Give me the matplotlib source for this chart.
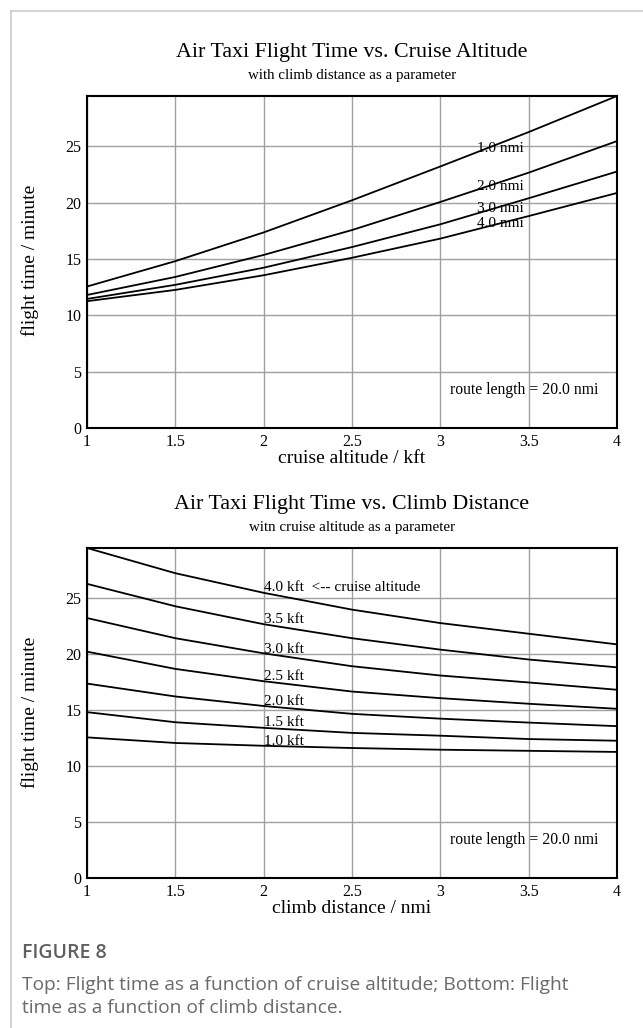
import matplotlib
matplotlib.use("Agg")
import matplotlib.pyplot as plt
from matplotlib.lines import Line2D

plt.rcParams['font.family'] = ['Liberation Serif', 'DejaVu Serif']

# grid of flight times (minutes), rows = cruise altitude, columns = climb distance
altitude = [1.0, 1.5, 2.0, 2.5, 3.0, 3.5, 4.0]      # kft
climb = [1.0, 1.5, 2.0, 2.5, 3.0, 3.5, 4.0]         # nmi

t_alt_1_0 = [12.55, 12.05, 11.80, 11.60, 11.45, 11.35, 11.25]
t_alt_1_5 = [14.80, 13.90, 13.40, 12.95, 12.70, 12.40, 12.25]
t_alt_2_0 = [17.35, 16.20, 15.35, 14.65, 14.22, 13.87, 13.55]
t_alt_2_5 = [20.20, 18.66, 17.56, 16.64, 16.05, 15.55, 15.10]
t_alt_3_0 = [23.20, 21.40, 20.05, 18.90, 18.07, 17.45, 16.80]
t_alt_3_5 = [26.25, 24.25, 22.65, 21.40, 20.38, 19.50, 18.80]
t_alt_4_0 = [29.45, 27.20, 25.45, 23.95, 22.75, 21.80, 20.85]

rows = [t_alt_1_0, t_alt_1_5, t_alt_2_0, t_alt_2_5, t_alt_3_0, t_alt_3_5, t_alt_4_0]
alt_labels = ["1.0 kft", "1.5 kft", "2.0 kft", "2.5 kft", "3.0 kft", "3.5 kft",
              "4.0 kft  <-- cruise altitude"]
alt_label_y = [12.2, 13.9, 15.75, 18.0, 20.4, 23.1, 25.9]

top_climbs = [1.0, 2.0, 3.0, 4.0]
climb_labels = ["1.0 nmi", "2.0 nmi", "3.0 nmi", "4.0 nmi"]
climb_label_y = [24.75, 21.4, 19.5, 18.1]

xticks = [1, 1.5, 2, 2.5, 3, 3.5, 4]
xtick_labels = ["1", "1.5", "2", "2.5", "3", "3.5", "4"]
yticks = [0, 5, 10, 15, 20, 25]

ymax = max(max(r) for r in rows)

fig = plt.figure(figsize=(6.43, 10.28), dpi=100)

# card border
fig.add_artist(Line2D([11 / 643, 11 / 643], [0, 1 - 11 / 1028], color='#cccccc', lw=1.2))
fig.add_artist(Line2D([11 / 643, 1], [1 - 11 / 1028, 1 - 11 / 1028], color='#cccccc', lw=1.2))

ax1 = fig.add_axes([87 / 643, 1 - 428 / 1028, 530 / 643, 332 / 1028])
ax2 = fig.add_axes([87 / 643, 1 - 878 / 1028, 530 / 643, 330 / 1028])


def style(ax):
    ax.set_xlim(1, 4)
    ax.set_ylim(0, ymax)
    ax.set_xticks(xticks)
    ax.set_xticklabels(xtick_labels)
    ax.set_yticks(yticks)
    ax.grid(True, color='#a0a0a0', lw=1.0)
    ax.set_axisbelow(True)
    ax.tick_params(length=0, labelsize=11.5, pad=4)
    for s in ax.spines.values():
        s.set_linewidth(1.5)
        s.set_color('black')
    ax.text(0.684, 0.115, "route length = 20.0 nmi", transform=ax.transAxes,
            fontsize=11.3, va='center', ha='left')


# top: flight time vs cruise altitude
for c, lab, ly in zip(top_climbs, climb_labels, climb_label_y):
    j = climb.index(c)
    ax1.plot(altitude, [r[j] for r in rows], color='black', lw=1.3)
    ax1.text(3.21, ly, lab, fontsize=11, va='center', ha='left')
style(ax1)
ax1.set_xlabel("cruise altitude / kft", fontsize=14, labelpad=0)

# bottom: flight time vs climb distance
for r, lab, ly in zip(rows, alt_labels, alt_label_y):
    ax2.plot(climb, r, color='black', lw=1.3)
    ax2.text(2.0, ly, lab, fontsize=11, va='center', ha='left')
style(ax2)
ax2.set_xlabel("climb distance / nmi", fontsize=14, labelpad=0)

fig.text(352 / 643, 1 - 52 / 1028, "Air Taxi Flight Time vs. Cruise Altitude",
         fontsize=15.8, ha='center', va='center')
fig.text(352 / 643, 1 - 76 / 1028, "with climb distance as a parameter",
         fontsize=10.8, ha='center', va='center')
fig.text(352 / 643, 1 - 504 / 1028, "Air Taxi Flight Time vs. Climb Distance",
         fontsize=15.8, ha='center', va='center')
fig.text(352 / 643, 1 - 528 / 1028, "witn cruise altitude as a parameter",
         fontsize=10.8, ha='center', va='center')

fig.text(30 / 643, 1 - 260 / 1028, "flight time / minute", rotation=90,
         fontsize=14, ha='center', va='center')
fig.text(30 / 643, 1 - 712 / 1028, "flight time / minute", rotation=90,
         fontsize=14, ha='center', va='center')

# caption
fig.text(22 / 643, 1 - 953 / 1028, "FIGURE 8", family=['Open Sans', 'DejaVu Sans'],
         fontsize=14, fontweight='semibold', color='#5f5f5f', ha='left', va='center')
fig.text(22 / 643, 1 - 985 / 1028,
         "Top: Flight time as a function of cruise altitude; Bottom: Flight",
         family=['Open Sans', 'DejaVu Sans'], fontsize=13.8, color='#6a6a6a',
         ha='left', va='center')
fig.text(22 / 643, 1 - 1008 / 1028, "time as a function of climb distance.",
         family=['Open Sans', 'DejaVu Sans'], fontsize=13.8, color='#6a6a6a',
         ha='left', va='center')

fig.savefig("out.png", dpi=100)
